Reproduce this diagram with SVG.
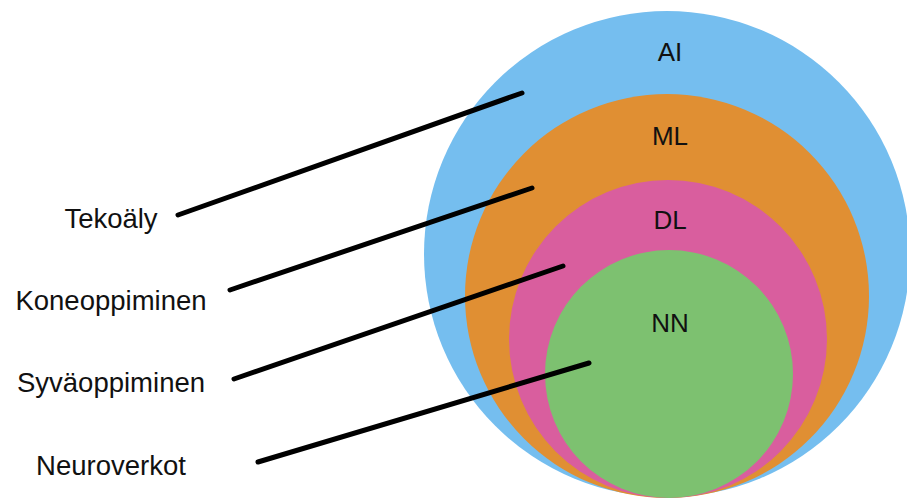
<svg xmlns="http://www.w3.org/2000/svg" width="907" height="503" viewBox="0 0 907 503">
<style>
.lbl{font-family:"Liberation Sans",Arial,sans-serif;font-size:27.5px;fill:#111;text-anchor:middle}
.in{font-family:"Liberation Sans",Arial,sans-serif;font-size:26px;fill:#111;text-anchor:middle}
.con{stroke:#000;stroke-width:5;stroke-linecap:round;fill:none}
</style>
<rect width="907" height="503" fill="#fff"/>
<g id="ai"><circle cx="667" cy="254" r="243" fill="#75BEEF"/><text class="in" x="670" y="61">AI</text></g>
<g id="ml"><circle cx="667" cy="296" r="202" fill="#E08F33"/><text class="in" x="670" y="145">ML</text></g>
<g id="dl"><circle cx="668" cy="339" r="159" fill="#D95E9E"/><text class="in" x="670" y="229">DL</text></g>
<g id="nn"><circle cx="669" cy="374" r="124" fill="#7DC170"/><text class="in" x="670" y="332">NN</text></g>
<g id="labels">
<text class="lbl" x="111" y="228">Tekoäly</text>
<text class="lbl" x="111" y="310">Koneoppiminen</text>
<text class="lbl" x="111" y="392">Syväoppiminen</text>
<text class="lbl" x="111" y="475">Neuroverkot</text>
</g>
<g id="connectors">
<line class="con" x1="178" y1="215" x2="522" y2="93"/>
<line class="con" x1="230" y1="290" x2="532" y2="188"/>
<line class="con" x1="234" y1="379" x2="563" y2="266"/>
<line class="con" x1="258" y1="462" x2="589" y2="363"/>
</g>
</svg>
